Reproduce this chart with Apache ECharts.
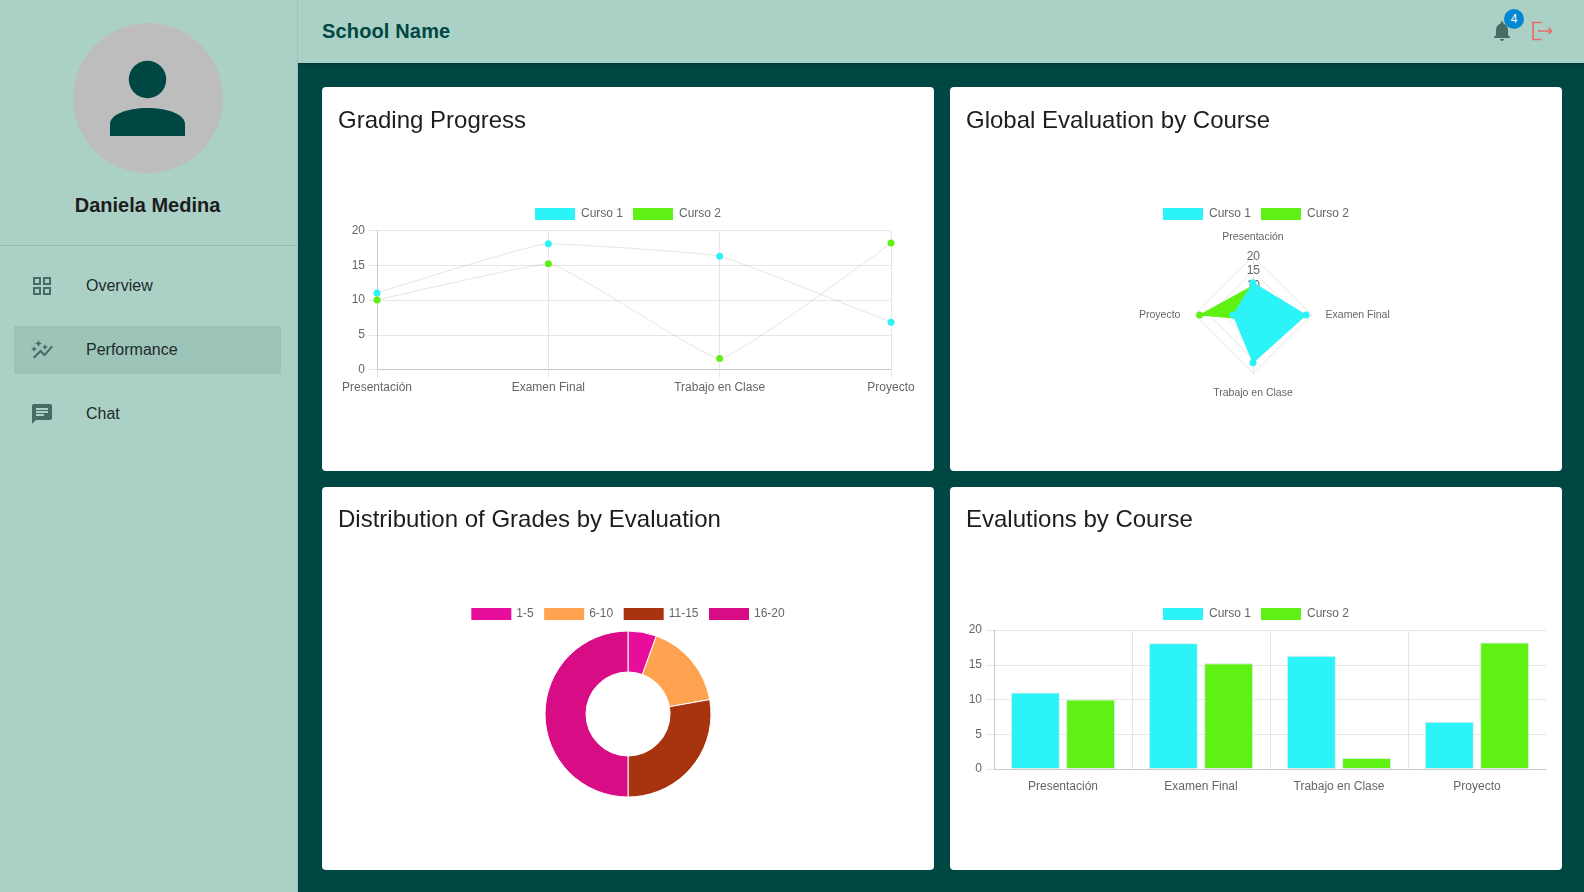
<!DOCTYPE html>
<html lang="en">
<head>
<meta charset="utf-8">
<title>School Name</title>
<script src="https://cdn.jsdelivr.net/npm/echarts@6/dist/echarts.min.js"></script>
<style>
  * { box-sizing: border-box; }
  html, body { margin: 0; height: 100%; overflow: hidden; background: #004643; font-family: "Liberation Sans", Arial, sans-serif; }
  .sidebar { position: absolute; left: 0; top: 0; width: 298px; height: 892px; background: #abd1c6; border-right: 1px solid #9cc2b7; z-index: 2; }
  .avatar { position: absolute; left: 73px; top: 23px; width: 150px; height: 150px; }
  .name { position: absolute; left: -1px; width: 297px; top: 193px; text-align: center; font-size: 20px; font-weight: bold; line-height: 24px; color: #1d1d1d; }
  .divider { position: absolute; left: 0; top: 245px; width: 297px; height: 1px; background: #94bcb1; }
  .active { position: absolute; left: 14px; top: 326px; width: 267px; height: 48px; background: #9dc4b9; }
  .item { position: absolute; left: 86px; font-size: 16px; line-height: 20px; color: #1d2b29; }
  .icon { position: absolute; left: 30px; width: 24px; height: 24px; fill: #4a6b64; }
  .header { position: absolute; left: 298px; top: 0; width: 1286px; height: 63px; background: #abd1c6; box-shadow: 0 1px 4px rgba(0,0,0,.35); }
  .school { position: absolute; left: 24px; top: 19px; font-size: 20px; font-weight: bold; line-height: 24px; letter-spacing: .15px; color: #004643; }
  .badge { position: absolute; left: 1206px; top: 9px; width: 20px; height: 20px; border-radius: 50%; background: #0288d1; color: #fff; font-size: 12px; line-height: 20px; text-align: center; }
  .card { position: absolute; width: 612px; height: 384px; background: #fff; border-radius: 4px; }
  .card h2 { position: absolute; left: 16px; top: 19px; margin: 0; font-size: 24px; font-weight: normal; line-height: 28px; color: #1d1d1d; z-index: 1; }
  .low h2 { top: 18px; }
  .chart { position: absolute; left: 0; top: 0; width: 612px; height: 384px; }
</style>
</head>
<body>
<div class="sidebar">
  <svg class="avatar" viewBox="0 0 150 150">
    <circle cx="75" cy="75" r="75" fill="#bdbdbd"/>
    <circle cx="74.5" cy="56.5" r="18.7" fill="#004643"/>
    <path d="M37 113 V101 C37 92 53 85 74.5 85 C96 85 112 92 112 101 V113 Z" fill="#004643"/>
  </svg>
  <div class="name">Daniela Medina</div>
  <div class="divider"></div>
  <div class="active"></div>
  <svg class="icon" style="top:274px" viewBox="0 0 24 24"><path d="M3 3v8h8V3H3zm6 6H5V5h4v4zm-6 4v8h8v-8H3zm6 6H5v-4h4v4zm4-16v8h8V3h-8zm6 6h-4V5h4v4zm-6 4v8h8v-8h-8zm6 6h-4v-4h4v4z"/></svg>
  <div class="item" style="top:276px">Overview</div>
  <svg class="icon" style="top:338px" viewBox="0 0 24 24"><path d="M14.06 9.94 12 9l2.06-.94L15 6l.94 2.06L18 9l-2.06.94L15 12l-.94-2.06zM4 14l.94-2.06L7 11l-2.06-.94L4 8l-.94 2.06L1 11l2.06.94L4 14zm4.5-5 1.09-2.41L12 5.5 9.59 4.41 8.5 2 7.41 4.41 5 5.5l2.41 1.09L8.5 9zm-4 11.5 6-6.01 4 4L23 8.93l-1.41-1.41-7.09 7.97-4-4L3 19l1.5 1.5z"/></svg>
  <div class="item" style="top:340px">Performance</div>
  <svg class="icon" style="top:402px" viewBox="0 0 24 24"><path d="M20 2H4c-1.1 0-1.99.9-1.99 2L2 22l4-4h14c1.1 0 2-.9 2-2V4c0-1.1-.9-2-2-2zM6 9h12v2H6V9zm8 5H6v-2h8v2zm4-6H6V6h12v2z"/></svg>
  <div class="item" style="top:404px">Chat</div>
</div>

<div class="header">
  <div class="school">School Name</div>
  <svg style="position:absolute;left:1192px;top:19px;width:24px;height:24px;fill:#4a6b64" viewBox="0 0 24 24"><path d="M12 22c1.1 0 2-.9 2-2h-4c0 1.1.89 2 2 2zm6-6v-5c0-3.07-1.64-5.64-4.5-6.32V4c0-.83-.67-1.5-1.5-1.5s-1.5.67-1.5 1.5v.68C7.63 5.36 6 7.92 6 11v5l-2 2v1h16v-1l-2-2z"/></svg>
  <div class="badge">4</div>
  <svg style="position:absolute;left:1232px;top:19px;width:24px;height:24px;fill:none;stroke:#ec6a6a;stroke-width:1.7" viewBox="0 0 24 24"><path d="M11.5 3.5H3v17h8.5M8 12H21.5M18.5 9l3 3-3 3"/></svg>
</div>

<div class="card" style="left:322px;top:87px"><h2>Grading Progress</h2><div class="chart" id="lineChart"></div></div>
<div class="card" style="left:950px;top:87px"><h2>Global Evaluation by Course</h2><div class="chart" id="radarChart"></div></div>
<div class="card low" style="left:322px;top:487px;height:383px"><h2>Distribution of Grades by Evaluation</h2><div class="chart" id="pieChart"></div></div>
<div class="card low" style="left:950px;top:487px;height:383px"><h2>Evalutions by Course</h2><div class="chart" id="barChart"></div></div>

<script>
// 評価の種類とコースごとの値
const categories = ['Presentación', 'Examen Final', 'Trabajo en Clase', 'Proyecto'];
const courseNames = ['Curso 1', 'Curso 2'];
const courseOne = [11, 18.1, 16.3, 6.8];
const courseTwo = [10, 15.2, 1.6, 18.2];

// 成績の分布
const gradeRanges = ['1-5', '6-10', '11-15', '16-20'];
const gradeCounts = [1, 3, 5, 9];

// 色
const courseColors = ['#2bf3f7', '#5ef113'];
const gradeColors = ['#e80e9c', '#ffa351', '#a8340f', '#d80d86'];

const textColor = '#666';
const gridColor = '#e6e6e6';
const axisColor = '#c8c8c8';
const font = '"Liberation Sans", Arial, sans-serif';

// レーダーは反時計回りに描かれるので、時計回りに見えるよう並べ替える
const radarOrder = [0, 3, 2, 1];

// 凡例は全グラフ共通
const legend = {
  top: 116,
  left: 'center',
  icon: 'rect',
  itemWidth: 40,
  itemHeight: 12,
  itemGap: 10,
  itemStyle: { borderWidth: 0 },
  textStyle: { color: textColor, fontSize: 12, fontFamily: font, padding: [0, 1, 0, 1] }
};

// 直交座標の軸の共通設定
const xAxisBase = {
  type: 'category',
  data: categories,
  axisLine: { lineStyle: { color: axisColor } },
  axisTick: { length: 8, lineStyle: { color: gridColor } },
  axisLabel: { color: textColor, fontSize: 12, fontFamily: font, margin: 12, interval: 0 },
  splitLine: { show: true, showMaxLine: false, lineStyle: { color: gridColor } }
};
const yAxisBase = {
  type: 'value',
  min: 0,
  max: 20,
  interval: 5,
  axisLine: { show: true, lineStyle: { color: axisColor } },
  axisTick: { show: true, length: 8, lineStyle: { color: gridColor } },
  axisLabel: { color: textColor, fontSize: 12, fontFamily: font, margin: 12 },
  splitLine: { show: true, lineStyle: { color: gridColor } }
};

// 折れ線グラフ
const lineChart = echarts.init(document.getElementById('lineChart'));
lineChart.setOption({
  animation: false,
  legend: { ...legend, data: courseNames },
  grid: { left: 55, right: 43, top: 143.5, height: 139 },
  xAxis: {
    ...xAxisBase,
    boundaryGap: false,
    splitLine: { show: true, lineStyle: { color: gridColor } }
  },
  yAxis: yAxisBase,
  series: [courseOne, courseTwo].map((values, i) => ({
    name: courseNames[i],
    type: 'line',
    data: values,
    smooth: 0.1,
    symbol: 'circle',
    symbolSize: 7,
    itemStyle: { color: courseColors[i] },
    lineStyle: { color: 'rgba(90,70,40,0.14)', width: 1 }
  }))
});

// レーダーチャート（Curso 1 が手前に来るよう z を上げる）
const radarChart = echarts.init(document.getElementById('radarChart'));
radarChart.setOption({
  animation: false,
  legend: { ...legend, data: courseNames },
  radar: {
    center: [303, 228],
    radius: 58.6,
    shape: 'polygon',
    splitNumber: 4,
    nameGap: 14,
    axisName: { color: textColor, fontSize: 10.5, fontFamily: font },
    axisLine: { lineStyle: { color: gridColor } },
    splitLine: { lineStyle: { color: gridColor } },
    splitArea: { show: false },
    axisTick: { show: false },
    axisLabel: { show: false },
    indicator: radarOrder.map((idx, i) => ({
      name: categories[idx],
      min: 0,
      max: 20,
      axisLabel: i === 0
        ? { show: true, color: textColor, fontSize: 12, fontFamily: font, margin: -7, showMinLabel: false }
        : { show: false }
    }))
  },
  series: [courseOne, courseTwo].map((values, i) => ({
    type: 'radar',
    z: 3 - i,
    symbol: 'circle',
    symbolSize: 7,
    data: [{
      name: courseNames[i],
      value: radarOrder.map(idx => values[idx]),
      itemStyle: { color: courseColors[i] },
      lineStyle: { color: courseColors[i], width: 1 },
      areaStyle: { color: courseColors[i], opacity: 1 }
    }]
  }))
});

// ドーナツグラフ
const pieChart = echarts.init(document.getElementById('pieChart'));
pieChart.setOption({
  animation: false,
  color: gradeColors,
  legend: { ...legend, data: gradeRanges, itemGap: 10.5, textStyle: { ...legend.textStyle, padding: 0 } },
  series: [{
    type: 'pie',
    center: [306, 227],
    radius: [42, 83],
    startAngle: 90,
    label: { show: false },
    labelLine: { show: false },
    itemStyle: { borderColor: '#fff', borderWidth: 1 },
    data: gradeRanges.map((name, i) => ({ name: name, value: gradeCounts[i] }))
  }]
});

// 棒グラフ
const barChart = echarts.init(document.getElementById('barChart'));
barChart.setOption({
  animation: false,
  legend: { ...legend, data: courseNames },
  grid: { left: 44, right: 16, top: 143, height: 139 },
  xAxis: xAxisBase,
  yAxis: yAxisBase,
  series: [courseOne, courseTwo].map((values, i) => ({
    name: courseNames[i],
    type: 'bar',
    data: values,
    barWidth: 49,
    barGap: '13%',
    itemStyle: { color: courseColors[i], borderColor: 'rgba(230,240,240,0.9)', borderWidth: 1 }
  }))
});
</script>
</body>
</html>
